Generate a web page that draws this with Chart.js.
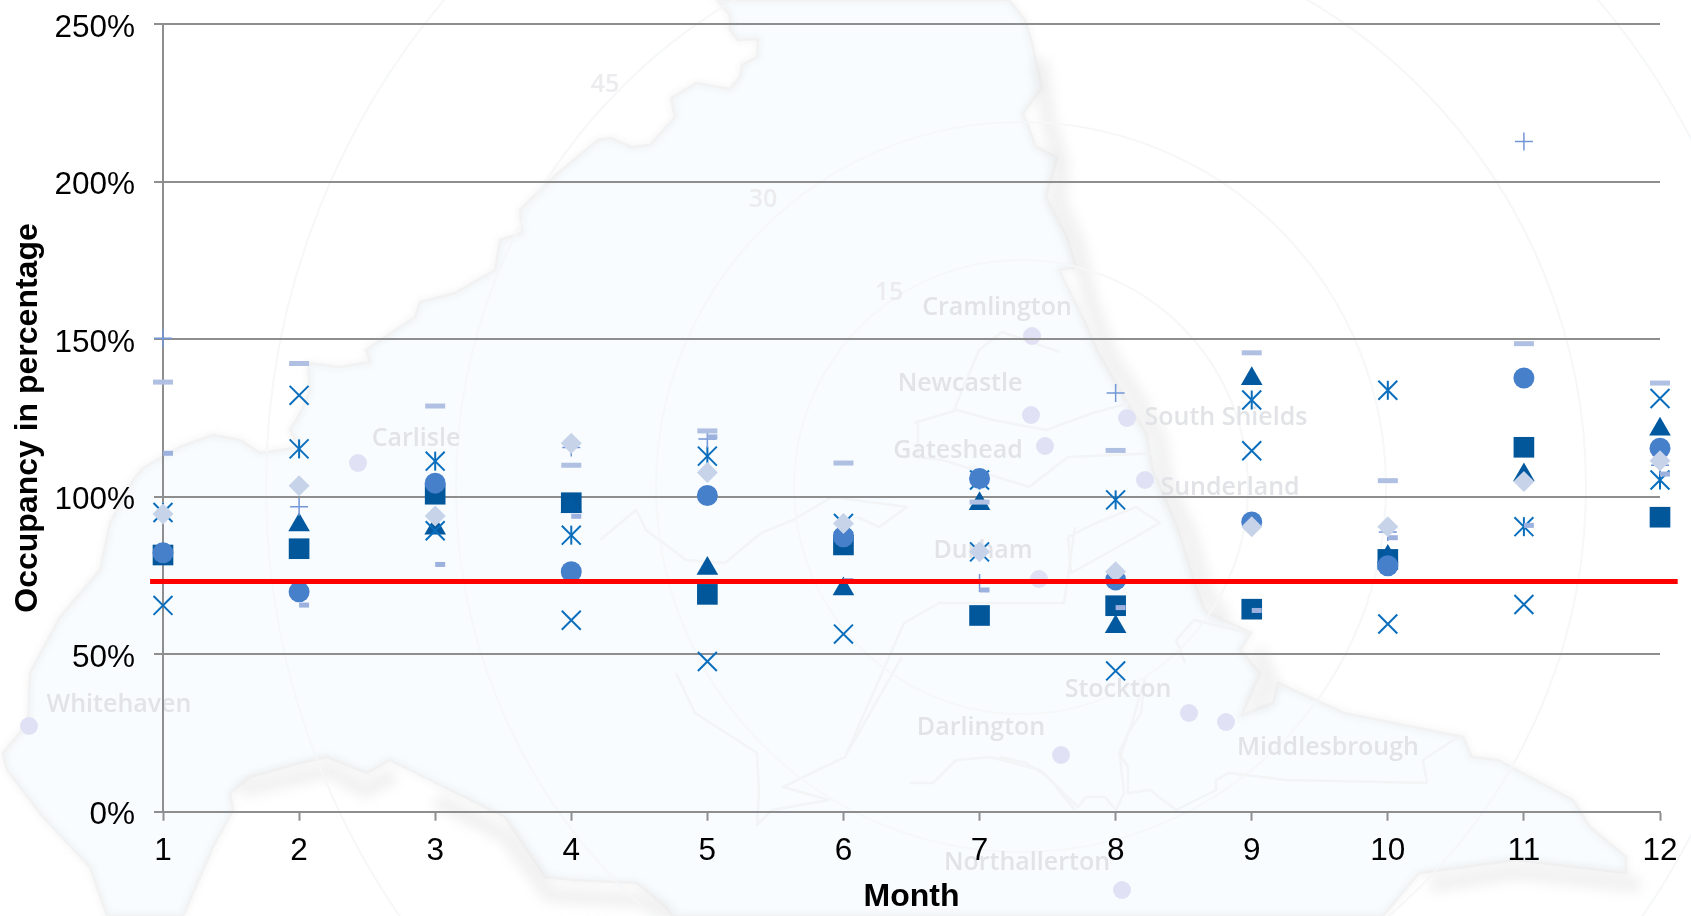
<!DOCTYPE html>
<html>
<head>
<meta charset="utf-8">
<title>Occupancy in percentage by month</title>
<script src="https://cdn.jsdelivr.net/npm/chart.js@4/dist/chart.umd.min.js"></script>
<style>
  html, body { margin: 0; padding: 0; background: #fff; overflow: hidden; }
  canvas { display: block; }
</style>
</head>
<body>
<canvas id="occupancyChart" width="1691" height="916"></canvas>
<script>
// Chart values (null = no marker visible)
const months = [1, 2, 3, 4, 5, 6, 7, 8, 9, 10, 11, 12];
const yTicks = [0, 50, 100, 150, 200, 250];
const squareValues = [81.5, 83.5, 100.8, 98.1, 69, 84.7, 62.3, 65.4, 64.3, 80.1, 115.7, 93.5];
const triangleValues = [null, 91, 90, 97, 77.2, 70.7, 97.8, 58.7, 137.5, 81, 106.9, 121.4];
const crossValues = [65.5, 132.2, 89.2, 60.8, 47.7, 56.4, 82.5, 44.7, 114.6, 59.6, 65.8, 131.2];
const starValues = [95, 115.2, 111.3, 87.8, 112.9, 91.5, 105.3, 99, 130.7, 133.8, 90.5, 105.3];
const circleValues = [82.2, 69.8, 104.3, 76.2, 100.4, 87.3, 105.8, 73.6, 92, 78.1, 137.7, 115.4];
const plusValues = [150.3, 96.8, null, 115.6, 118.3, null, 72.6, 132.9, null, 88.8, 212.8, 110];
const longDashValues = [136.4, 142.3, 128.8, 110, 120.9, 110.7, 98.3, 114.7, 145.7, 105.1, 148.6, 136.1];
const shortDashValues = [113.8, 65.6, 78.5, 93.8, 119, 73.4, 70.4, 64.8, 63.9, 87, 90.9, 107.2];
const diamondValues = [94.5, 103.5, 93.9, 117, 107.7, 91.5, 82.5, 76.2, 90.5, 90.5, 104.8, 111.4];
const targetX = [0.905, 12.13];
const targetY = [73.1, 73.1];

// Faint map behind the chart (page pixels)
const landOutline = [[717,0],[730,15],[730,30],[738,40],[758,39],[757,57],[742,65],[740,77],[730,89],[696,83],[671,98],[675,117],[650,145],[631,147],[611,138],[598,140],[558,173],[520,210],[522,233],[500,240],[495,270],[455,293],[420,302],[415,317],[366,350],[370,362],[339,367],[308,363],[310,390],[302,410],[290,430],[300,447],[260,453],[240,440],[213,435],[180,447],[143,468],[133,480],[110,523],[100,570],[60,617],[30,673],[28,723],[3,753],[7,770],[43,817],[90,867],[107,916],[183,916],[213,847],[233,810],[230,793],[250,777],[300,763],[327,757],[367,773],[390,760],[436,783],[505,817],[545,877],[574,880],[637,883],[666,907],[672,916],[1383,916],[1419,873],[1516,860],[1626,873],[1626,857],[1590,827],[1573,800],[1498,760],[1472,757],[1463,737],[1344,713],[1278,683],[1273,703],[1242,715],[1260,673],[1240,650],[1251,633],[1205,611],[1194,581],[1177,526],[1153,471],[1146,433],[1122,394],[1097,350],[1084,320],[1059,270],[1076,267],[1067,237],[1046,197],[1057,157],[1036,147],[1023,113],[1042,88],[1032,43],[1025,20],[1009,0]];
const coastShadows = [
  [[1040,60],[1048,120],[1062,165],[1058,200],[1078,245],[1090,300],[1110,355],[1135,395],[1160,440],[1165,480],[1190,535],[1205,590],[1225,620]],
  [[1258,650],[1270,680],[1255,708]],
  [[436,800],[505,835],[550,895],[640,900],[670,916]],
  [[1430,885],[1516,872],[1640,885]],
  [[240,790],[330,770],[365,790],[395,775]]
];
const mapBorders = [
  [[676,673],[695,713],[737,740],[757,753],[759,793],[757,825],[772,810],[829,800],[783,787],[845,757],[902,657]],
  [[910,783],[933,783],[956,760],[990,757],[1040,770],[1078,807],[1086,797],[1105,797],[1116,810],[1124,793],[1120,757],[1132,723],[1145,677],[1141,713],[1128,733],[1119,753],[1128,767],[1128,793],[1150,790],[1176,810],[1216,790],[1216,780],[1229,773],[1286,780],[1427,783],[1423,760],[1458,737]],
  [[1000,757],[1026,763],[1048,777],[1075,810]],
  [[1185,663],[1176,640],[1194,620],[1247,633]],
  [[600,540],[636,510],[646,530],[686,560],[725,563],[761,533],[793,520],[832,497],[907,507],[879,527],[857,517]],
  [[914,423],[957,410],[993,420],[1046,430],[1093,413],[1129,403]],
  [[918,420],[918,457],[943,460],[1029,487],[1068,457],[1160,453]],
  [[1068,537],[1096,523],[1136,507],[1160,523],[1100,557],[1071,573],[1068,537]],
  [[1075,527],[1064,603],[939,603],[904,623],[845,757]],
  [[954,410],[979,350],[1002,332],[1060,352]]
];
const ringCentre = [1021, 487];
const ringRadii = [227, 365, 565, 755];
const ringLabels = [["15", 889, 293], ["30", 763, 200], ["45", 605, 85]];
const townLabels = [
  ["Cramlington", 997, 308], ["Newcastle", 960, 384], ["Gateshead", 958, 451],
  ["South Shields", 1226, 418], ["Sunderland", 1230, 488], ["Durham", 983, 551],
  ["Carlisle", 416, 439], ["Whitehaven", 119, 705], ["Stockton", 1118, 690],
  ["Darlington", 981, 728], ["Middlesbrough", 1328, 748], ["Northallerton", 1027, 863]
];
const townDots = [[358,463],[29,726],[1032,336],[1031,415],[1045,446],[1127,418],[1145,480],[1039,579],[1189,713],[1226,722],[1061,755],[1122,890]];

const mapBackground = {
  id: "mapBackground",
  beforeDraw(chart) {
    const ctx = chart.ctx;
    const tracePath = (pts) => {
      ctx.beginPath();
      pts.forEach((p, i) => (i ? ctx.lineTo(p[0], p[1]) : ctx.moveTo(p[0], p[1])));
    };
    ctx.save();
    ctx.fillStyle = "#fff";
    ctx.fillRect(0, 0, chart.width, chart.height);

    // land and coast
    tracePath(landOutline);
    ctx.closePath();
    ctx.fillStyle = "#f8fcfe";
    ctx.fill();
    ctx.filter = "blur(3px)";
    ctx.strokeStyle = "rgba(225,225,225,0.3)";
    ctx.lineWidth = 6;
    ctx.stroke();
    ctx.filter = "none";
    ctx.strokeStyle = "#f2f2f2";
    ctx.lineWidth = 2.5;
    ctx.lineJoin = "round";
    ctx.stroke();

    // soft shadow along parts of the coast
    ctx.filter = "blur(6px)";
    ctx.strokeStyle = "rgba(228,228,228,0.5)";
    ctx.lineWidth = 16;
    coastShadows.forEach((line) => {
      tracePath(line);
      ctx.stroke();
    });
    ctx.filter = "none";

    // county borders
    ctx.strokeStyle = "#f2f4f5";
    ctx.lineWidth = 2.5;
    mapBorders.forEach((line) => {
      tracePath(line);
      ctx.stroke();
    });

    // distance rings
    ctx.strokeStyle = "#f6f7f8";
    ctx.lineWidth = 2;
    ringRadii.forEach((r) => {
      ctx.beginPath();
      ctx.arc(ringCentre[0], ringCentre[1], r, 0, Math.PI * 2);
      ctx.stroke();
    });

    ctx.textAlign = "center";
    ctx.textBaseline = "middle";
    ctx.fillStyle = "#ececee";
    ctx.font = "600 25px 'Open Sans'";
    ringLabels.forEach((l) => ctx.fillText(l[0], l[1], l[2]));

    ctx.fillStyle = "#e1e1f6";
    townDots.forEach((d) => {
      ctx.beginPath();
      ctx.arc(d[0], d[1], 9, 0, Math.PI * 2);
      ctx.fill();
    });

    ctx.fillStyle = "#e2e3e7";
    townLabels.forEach((l) => ctx.fillText(l[0], l[1], l[2]));
    ctx.restore();
  },
};

const toPoints = (values) => values.map((v, i) => ({ x: months[i], y: v }));

const markerSet = (label, values, style, radius, color, lineWidth, rotation) => ({
  label: label,
  data: toPoints(values),
  showLine: false,
  clip: false,
  pointStyle: style,
  pointRadius: radius,
  pointHoverRadius: radius,
  pointRotation: rotation || 0,
  pointBackgroundColor: color,
  pointBorderColor: color,
  pointBorderWidth: lineWidth,
});

const fontFamily = "'Liberation Sans', Arial, sans-serif";
const axisGrey = "#8e8e8e";

// first dataset is painted last, so the red line comes first
new Chart(document.getElementById("occupancyChart"), {
  type: "scatter",
  data: {
    datasets: [
      {
        label: "Target",
        data: targetX.map((x, i) => ({ x: x, y: targetY[i] })),
        showLine: true,
        clip: false,
        borderColor: "#ff0000",
        borderWidth: 5,
        pointRadius: 0,
      },
      markerSet("Diamond", diamondValues, "rectRot", 10.5, "#c7d3e9", 0),
      markerSet("Short dash", shortDashValues, "dash", 10, "#9db1df", 5),
      markerSet("Long dash", longDashValues, "line", 10, "#b0c0e3", 5),
      markerSet("Plus", plusValues, "cross", 9, "#7396d6", 1.5),
      markerSet("Circle", circleValues, "circle", 10.5, "#467fca", 0),
      markerSet("Star", starValues, "crossRot", 13.4, "#0a6ebd", 2),
      markerSet("Star stem", starValues, "line", 9.5, "#0a6ebd", 2, 90),
      markerSet("Cross", crossValues, "crossRot", 13.4, "#0a6ebd", 2),
      markerSet("Triangle", triangleValues, "triangle", 12.5, "#02599f", 0),
      markerSet("Square", squareValues, "rect", 14.6, "#02569a", 0),
    ],
  },
  plugins: [mapBackground],
  options: {
    responsive: false,
    animation: false,
    layout: { padding: { top: 24.3, right: 31 } },
    plugins: {
      legend: { display: false },
      tooltip: { enabled: false },
    },
    scales: {
      x: {
        type: "linear",
        min: months[0],
        max: months[months.length - 1],
        afterFit: (scale) => {
          scale.height = 104.3;
          scale.paddingLeft = 0;
          scale.paddingRight = 0;
        },
        afterBuildTicks: (scale) => { scale.ticks = months.map((m) => ({ value: m })); },
        title: {
          display: true,
          text: "Month",
          color: "#000",
          font: { family: fontFamily, size: 32, weight: "bold" },
          padding: 0,
        },
        ticks: {
          color: "#000",
          autoSkip: false,
          maxRotation: 0,
          padding: 12,
          font: { family: fontFamily, size: 31.5 },
        },
        border: { color: axisGrey, width: 2 },
        grid: { drawOnChartArea: false, tickLength: 9, tickColor: axisGrey, tickWidth: 2 },
      },
      y: {
        min: yTicks[0],
        max: yTicks[yTicks.length - 1],
        afterFit: (scale) => {
          scale.width = 163;
          scale.paddingTop = 0;
          scale.paddingBottom = 0;
        },
        afterBuildTicks: (scale) => { scale.ticks = yTicks.map((v) => ({ value: v })); },
        title: {
          display: true,
          text: "Occupancy in percentage",
          color: "#000",
          font: { family: fontFamily, size: 32, weight: "bold" },
          padding: { top: 9, bottom: 0 },
        },
        ticks: {
          color: "#000",
          padding: 19,
          labelOffset: 4,
          callback: (v) => v + "%",
          font: { family: fontFamily, size: 31.5 },
        },
        border: { color: axisGrey, width: 2 },
        grid: { color: axisGrey, lineWidth: 2, tickLength: 9 },
      },
    },
  },
});
</script>
</body>
</html>
